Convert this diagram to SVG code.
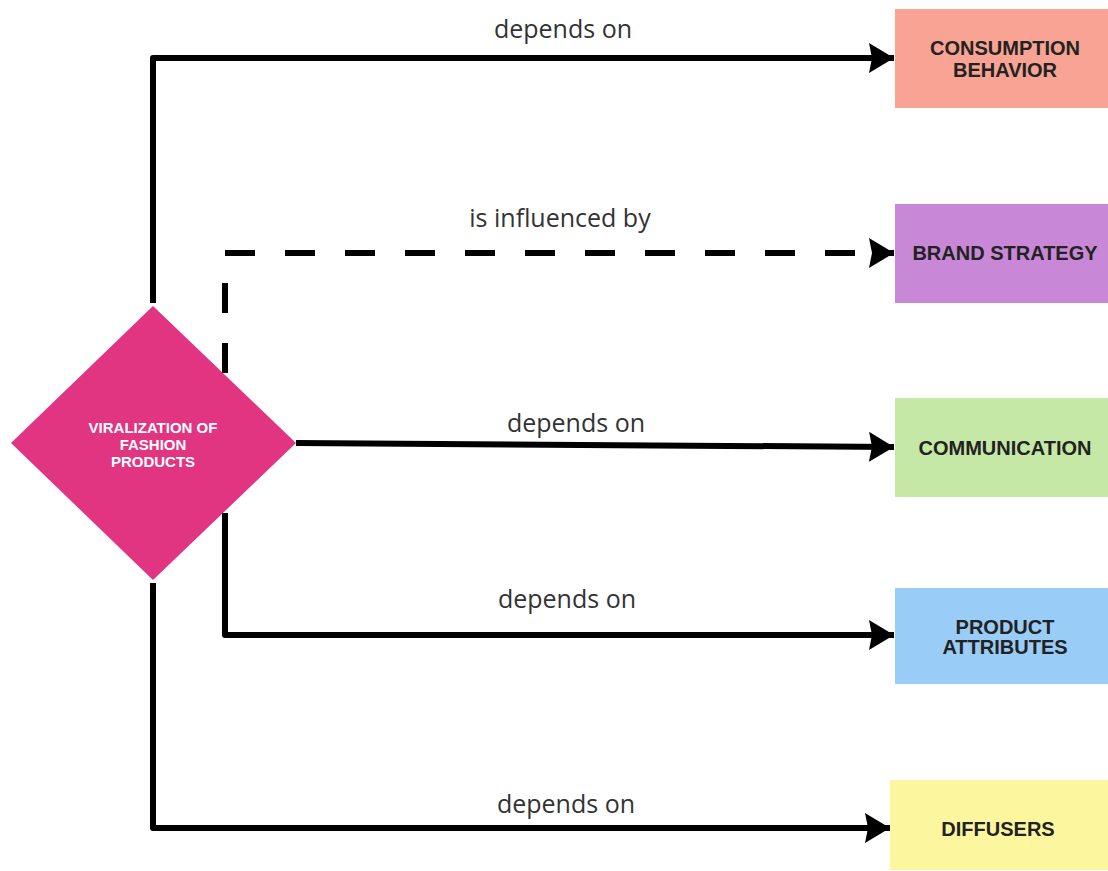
<svg xmlns="http://www.w3.org/2000/svg" width="1108" height="871" viewBox="0 0 1108 871">
<style>
.conn{fill:none;stroke:#000;stroke-width:6;stroke-linejoin:round}
.dash{stroke-dasharray:30 30}
.lbl{font-family:"Open Sans",sans-serif;font-size:25px;fill:#333;text-anchor:middle}
.box{font-family:"Liberation Sans",Arial,sans-serif;font-weight:bold;font-size:20px;fill:#222;text-anchor:middle}
.dia{font-family:"Liberation Sans",Arial,sans-serif;font-weight:bold;font-size:15px;fill:#fff;text-anchor:middle}
</style>
<defs>
<marker id="arr" markerUnits="userSpaceOnUse" viewBox="0 0 26 30" refX="25" refY="15" markerWidth="26" markerHeight="30" orient="auto">
<path d="M0 0 L25 15 L0 30 L3 15 Z" fill="#000"/>
</marker>
</defs>
<rect width="1108" height="871" fill="#fff"/>
<g id="connectors">
<path class="conn" d="M153 303 V58 H894" marker-end="url(#arr)"/>
<g id="influenced">
<path class="conn dash" d="M225 373 V253"/>
<path class="conn dash" d="M225 253 H894" marker-end="url(#arr)"/>
</g>
<path class="conn" d="M296 443 L894 447" marker-end="url(#arr)"/>
<path class="conn" d="M225 513 V635 H894" marker-end="url(#arr)"/>
<path class="conn" d="M153 583 V828 H890" marker-end="url(#arr)"/>
<text class="lbl" x="563" y="38">depends on</text>
<text class="lbl" x="560" y="227">is influenced by</text>
<text class="lbl" x="576" y="432">depends on</text>
<text class="lbl" x="567" y="608">depends on</text>
<text class="lbl" x="566" y="813">depends on</text>
</g>
<g id="viralization">
<polygon points="153,306 296,443 153,580 11,443" fill="#E13582"/>
<text class="dia" x="153" y="433">VIRALIZATION OF</text>
<text class="dia" x="153" y="450">FASHION</text>
<text class="dia" x="153" y="467">PRODUCTS</text>
</g>
<g id="consumption">
<rect x="895" y="9" width="215" height="99" fill="#F8A393"/>
<text class="box" x="1005" y="55">CONSUMPTION</text>
<text class="box" x="1005" y="77">BEHAVIOR</text>
</g>
<g id="brand">
<rect x="895" y="204" width="215" height="99" fill="#C987D7"/>
<text class="box" x="1005" y="260">BRAND STRATEGY</text>
</g>
<g id="communication">
<rect x="895" y="398" width="215" height="99" fill="#C6E8A6"/>
<text class="box" x="1005" y="455">COMMUNICATION</text>
</g>
<g id="product">
<rect x="895" y="588" width="215" height="96" fill="#99CCF6"/>
<text class="box" x="1005" y="634">PRODUCT</text>
<text class="box" x="1005" y="654">ATTRIBUTES</text>
</g>
<g id="diffusers">
<rect x="890" y="780" width="218" height="90" fill="#FCF79E"/>
<text class="box" x="998" y="836">DIFFUSERS</text>
</g>
</svg>
